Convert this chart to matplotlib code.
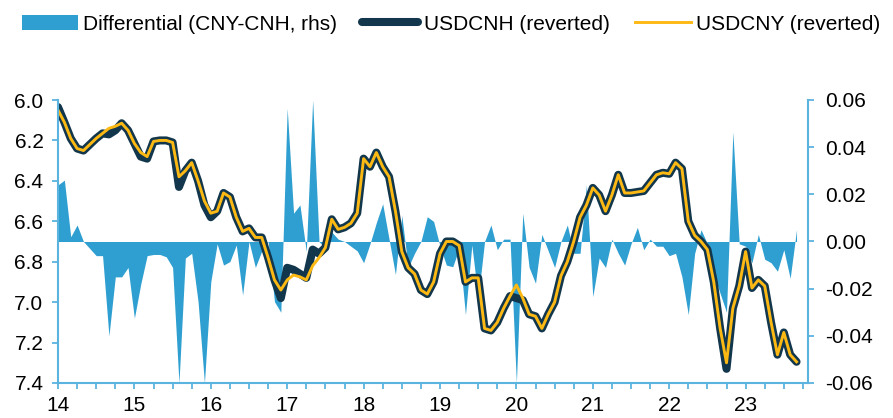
import numpy as np
import matplotlib
matplotlib.use("Agg")
import matplotlib.pyplot as plt
from matplotlib.ticker import MultipleLocator, FixedLocator, FormatStrFormatter

plt.rcParams['font.family'] = ['Liberation Sans', 'DejaVu Sans']
plt.rcParams['axes.unicode_minus'] = False

# monthly data, Jan 2014 onward
start_year = 2014

usdcny = [6.05, 6.11, 6.19, 6.24, 6.25, 6.22, 6.19, 6.165, 6.14, 6.13, 6.115, 6.15,
          6.215, 6.26, 6.28, 6.205, 6.20, 6.20, 6.21, 6.38, 6.35, 6.31, 6.40, 6.50,
          6.56, 6.55, 6.46, 6.48, 6.58, 6.65, 6.635, 6.68, 6.68, 6.78, 6.89, 6.94,
          6.89, 6.866, 6.875, 6.89, 6.82, 6.78, 6.73, 6.59, 6.64, 6.63, 6.61, 6.56,
          6.29, 6.33, 6.26, 6.33, 6.38, 6.55, 6.75, 6.83, 6.86, 6.94, 6.96, 6.90,
          6.76, 6.70, 6.70, 6.72, 6.90, 6.88, 6.88, 7.13, 7.14, 7.10, 7.03, 6.97,
          6.915, 6.98, 7.06, 7.07, 7.13, 7.06, 7.00, 6.87, 6.80, 6.70, 6.58, 6.52,
          6.435, 6.47, 6.55, 6.47, 6.37, 6.46, 6.46, 6.455, 6.45, 6.41, 6.37, 6.36,
          6.365, 6.31, 6.34, 6.60, 6.67, 6.70, 6.74, 6.90, 7.13, 7.30, 7.03, 6.92,
          6.75, 6.93, 6.89, 6.92, 7.10, 7.26, 7.15, 7.26, 7.295]

usdcnh = [6.035, 6.11, 6.19, 6.24, 6.25, 6.22, 6.19, 6.165, 6.17, 6.15, 6.115, 6.15,
          6.215, 6.28, 6.29, 6.205, 6.20, 6.20, 6.21, 6.43, 6.35, 6.31, 6.40, 6.52,
          6.58, 6.55, 6.46, 6.48, 6.58, 6.65, 6.635, 6.68, 6.68, 6.78, 6.89, 6.98,
          6.83, 6.84, 6.86, 6.88, 6.74, 6.76, 6.73, 6.59, 6.64, 6.63, 6.61, 6.56,
          6.29, 6.33, 6.26, 6.33, 6.38, 6.55, 6.75, 6.83, 6.86, 6.94, 6.96, 6.90,
          6.76, 6.70, 6.70, 6.72, 6.90, 6.88, 6.88, 7.13, 7.14, 7.10, 7.03, 6.97,
          6.98, 6.99, 7.06, 7.07, 7.13, 7.06, 7.00, 6.87, 6.80, 6.70, 6.58, 6.52,
          6.435, 6.47, 6.55, 6.47, 6.37, 6.46, 6.46, 6.455, 6.45, 6.41, 6.37, 6.36,
          6.365, 6.31, 6.34, 6.60, 6.67, 6.70, 6.74, 6.90, 7.13, 7.33, 7.03, 6.92,
          6.75, 6.93, 6.89, 6.92, 7.10, 7.26, 7.15, 7.26, 7.295]

differential = [0.024, 0.026, 0.002, 0.007, 0.0, -0.003, -0.006, -0.006, -0.040, -0.015, -0.015, -0.011,
                -0.0325, -0.018, -0.006, -0.0055, -0.0055, -0.0065, -0.011, -0.060, -0.007, -0.005, -0.0255, -0.060,
                -0.017, -0.001, -0.010, -0.0085, -0.0015, -0.0227, 0.0, -0.011, -0.004, 0.0, -0.0255, -0.030,
                0.0565, 0.012, 0.0155, -0.0043, 0.060, 0.0, -0.003, 0.004, 0.001, 0.0, -0.002, -0.004,
                -0.009, -0.001, 0.008, 0.016, 0.001, -0.014, 0.011, -0.011, -0.005, 0.0, 0.0105, 0.0085,
                -0.002, -0.010, -0.0107, -0.003, -0.031, -0.0015, -0.024, 0.0, 0.007, -0.0035, 0.001, 0.001,
                -0.060, 0.012, -0.011, -0.0177, 0.003, -0.004, -0.011, 0.0, 0.007, -0.005, -0.005, 0.024,
                -0.0234, -0.007, -0.011, 0.001, -0.005, -0.010, -0.001, 0.006, -0.0035, 0.001, -0.002, -0.002,
                -0.006, -0.005, -0.015, -0.031, -0.005, 0.005, -0.001, -0.014, -0.022, -0.030, 0.0465, -0.001,
                -0.002, -0.009, 0.003, -0.0075, -0.009, -0.0126, -0.0035, -0.0156, 0.005]

year_labels = ['14', '15', '16', '17', '18', '19', '20', '21', '22', '23']

x = start_year + np.arange(len(usdcny)) / 12.0

spine_col = '#5BB3DF'
area_col = '#2E9FD0'
cnh_col = '#12374C'
cny_col = '#FDB913'
fs = 15

fig = plt.figure(figsize=(8.93, 4.18), dpi=100)
ax = fig.add_axes([58 / 893, 1 - 383 / 418, 750 / 893, 283 / 418])
ax2 = ax.twinx()

# differential area on the right axis, behind the lines
area = ax2.fill_between(x, differential, 0, color=area_col, linewidth=0,
                        label='Differential (CNY-CNH, rhs)')
ax2.set_ylim(-0.06, 0.06)
ax2.yaxis.set_major_locator(MultipleLocator(0.02))
ax2.yaxis.set_major_formatter(FormatStrFormatter('%.2f'))

ln1, = ax.plot(x, usdcnh, color=cnh_col, lw=5.8, solid_capstyle='round',
               solid_joinstyle='round', label='USDCNH (reverted)')
ln2, = ax.plot(x, usdcny, color=cny_col, lw=2.1, solid_joinstyle='round',
               label='USDCNY (reverted)')
ax.set_zorder(ax2.get_zorder() + 1)
ax.patch.set_visible(False)

ax.set_ylim(7.4, 6.0)
ax.yaxis.set_major_locator(MultipleLocator(0.2))
ax.yaxis.set_major_formatter(FormatStrFormatter('%.1f'))

x_end = 2014 + 750 / 76.4
ax.set_xlim(2014, x_end)
years = np.arange(2014, 2024)
ax.xaxis.set_major_locator(FixedLocator(years))
ax.set_xticklabels(year_labels)
ax.xaxis.set_minor_locator(MultipleLocator(0.25))

for a in (ax, ax2):
    a.spines['top'].set_visible(False)
    for s in ('left', 'right', 'bottom'):
        a.spines[s].set_color(spine_col)
        a.spines[s].set_linewidth(1.5)
    a.tick_params(which='both', colors=spine_col, labelcolor='black',
                  labelsize=fs, length=4.5, width=1.3)
ax.spines['right'].set_visible(False)
ax2.spines['left'].set_visible(False)
ax2.spines['bottom'].set_visible(False)
ax.tick_params(axis='y', pad=6)
ax.tick_params(axis='x', pad=5)
ax2.tick_params(axis='y', pad=8)

fig.legend(handles=[area, ln1, ln2], loc='center', bbox_to_anchor=(0.505, 0.942),
           ncol=3, frameon=False, fontsize=fs, handlelength=2.7,
           handletextpad=0.25, columnspacing=1.2, borderaxespad=0)

fig.savefig('out.png', dpi=100)
